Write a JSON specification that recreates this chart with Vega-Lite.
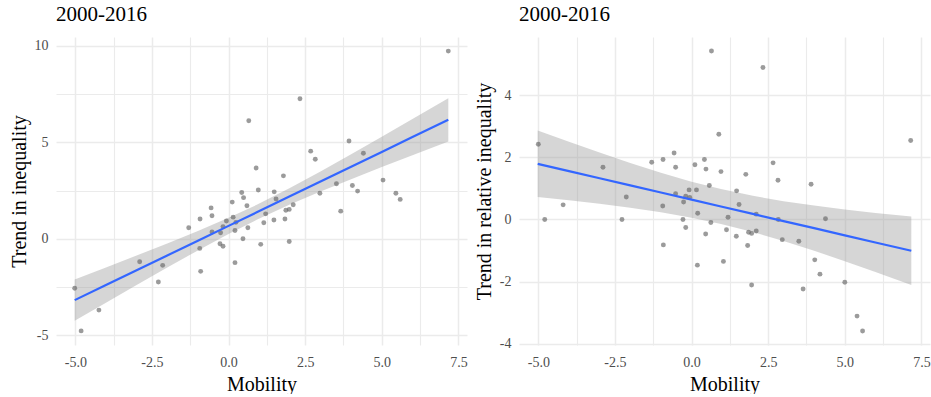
{
  "$schema": "https://vega.github.io/schema/vega-lite/v6.json",
  "background": "white",
  "padding": {"left": 9, "top": 4, "right": 0, "bottom": 0},
  "bounds": "flush",
  "spacing": 52,
  "config": {
    "font": "Liberation Serif",
    "view": {"stroke": null},
    "axis": {
      "domain": false,
      "ticks": false,
      "gridColor": "#ebebeb",
      "labelColor": "#4d4d4d",
      "labelFontSize": 14,
      "labelPadding": 8,
      "titleFontSize": 20,
      "titleFontWeight": "normal",
      "titleColor": "#000000",
      "titlePadding": 5
    },
    "title": {"anchor": "start", "frame": "group", "fontSize": 21, "fontWeight": "normal", "color": "#000000", "offset": 12}
  },
  "datasets": {
    "left": [
      {"mobility": 7.17, "trend": 9.73}, {"mobility": 2.33, "trend": 7.26}, {"mobility": 0.66, "trend": 6.12},
      {"mobility": 3.93, "trend": 5.07}, {"mobility": 4.40, "trend": 4.43}, {"mobility": 2.68, "trend": 4.54},
      {"mobility": 2.83, "trend": 4.12}, {"mobility": 0.90, "trend": 3.67}, {"mobility": 1.79, "trend": 3.26},
      {"mobility": 5.04, "trend": 3.04}, {"mobility": 3.52, "trend": 2.85}, {"mobility": 4.04, "trend": 2.76},
      {"mobility": 4.21, "trend": 2.47}, {"mobility": 2.98, "trend": 2.36}, {"mobility": 5.46, "trend": 2.36},
      {"mobility": 5.60, "trend": 2.04}, {"mobility": 0.43, "trend": 2.40}, {"mobility": 0.97, "trend": 2.53},
      {"mobility": 1.49, "trend": 2.43}, {"mobility": 0.49, "trend": 2.13}, {"mobility": 1.55, "trend": 2.06},
      {"mobility": 3.66, "trend": 1.43}, {"mobility": 0.12, "trend": 1.90}, {"mobility": 0.60, "trend": 1.71},
      {"mobility": -0.57, "trend": 1.60}, {"mobility": -0.54, "trend": 1.19}, {"mobility": -0.93, "trend": 1.02},
      {"mobility": -1.30, "trend": 0.57}, {"mobility": 0.15, "trend": 1.12}, {"mobility": -0.07, "trend": 0.92},
      {"mobility": -0.18, "trend": 0.63}, {"mobility": -0.54, "trend": 0.35}, {"mobility": -0.26, "trend": 0.31},
      {"mobility": 0.21, "trend": 0.43}, {"mobility": 0.63, "trend": 0.57}, {"mobility": 0.24, "trend": 0.85},
      {"mobility": 1.21, "trend": 1.29}, {"mobility": 1.15, "trend": 0.83}, {"mobility": 1.48, "trend": 0.97},
      {"mobility": 1.98, "trend": 1.52}, {"mobility": 1.87, "trend": 1.48}, {"mobility": 2.11, "trend": 1.76},
      {"mobility": 1.84, "trend": 1.02}, {"mobility": 1.98, "trend": -0.14}, {"mobility": 1.05, "trend": -0.29},
      {"mobility": 0.47, "trend": 0.0}, {"mobility": -0.28, "trend": -0.26}, {"mobility": -0.18, "trend": -0.39},
      {"mobility": -0.94, "trend": -0.50}, {"mobility": 0.21, "trend": -1.24}, {"mobility": -0.91, "trend": -1.69},
      {"mobility": -2.90, "trend": -1.19}, {"mobility": -2.15, "trend": -1.38}, {"mobility": -2.29, "trend": -2.24},
      {"mobility": -5.02, "trend": -2.57}, {"mobility": -4.23, "trend": -3.70}, {"mobility": -4.81, "trend": -4.78}
    ],
    "right": [
      {"mobility": 0.65, "rel": 5.42}, {"mobility": 2.33, "rel": 4.89}, {"mobility": 0.89, "rel": 2.74},
      {"mobility": 7.15, "rel": 2.54}, {"mobility": -5.0, "rel": 2.42}, {"mobility": -0.57, "rel": 2.14},
      {"mobility": -2.89, "rel": 1.68}, {"mobility": -1.30, "rel": 1.84}, {"mobility": -0.93, "rel": 1.93},
      {"mobility": -0.52, "rel": 1.68}, {"mobility": 0.42, "rel": 1.93}, {"mobility": 0.11, "rel": 1.76},
      {"mobility": 0.47, "rel": 1.62}, {"mobility": 0.96, "rel": 1.54}, {"mobility": 1.77, "rel": 1.45},
      {"mobility": 2.66, "rel": 1.82}, {"mobility": 2.82, "rel": 1.26}, {"mobility": 3.90, "rel": 1.13},
      {"mobility": 0.58, "rel": 1.09}, {"mobility": 1.47, "rel": 0.92}, {"mobility": -0.08, "rel": 0.95},
      {"mobility": 0.16, "rel": 0.95}, {"mobility": -0.52, "rel": 0.83}, {"mobility": -0.19, "rel": 0.75},
      {"mobility": -0.06, "rel": 0.71}, {"mobility": -2.13, "rel": 0.72}, {"mobility": -4.19, "rel": 0.47},
      {"mobility": -4.79, "rel": 0.0}, {"mobility": -2.27, "rel": 0.0}, {"mobility": -0.94, "rel": 0.43},
      {"mobility": -0.26, "rel": 0.56}, {"mobility": 1.55, "rel": 0.48}, {"mobility": 0.20, "rel": 0.20},
      {"mobility": -0.28, "rel": 0.0}, {"mobility": -0.19, "rel": -0.26}, {"mobility": 0.63, "rel": -0.10},
      {"mobility": 1.19, "rel": 0.07}, {"mobility": 0.46, "rel": -0.47}, {"mobility": 1.14, "rel": -0.33},
      {"mobility": 1.46, "rel": -0.54}, {"mobility": 1.86, "rel": -0.41}, {"mobility": 1.96, "rel": -0.45},
      {"mobility": 2.11, "rel": -0.37}, {"mobility": 2.11, "rel": 0.17}, {"mobility": 2.83, "rel": 0.0},
      {"mobility": 2.96, "rel": -0.65}, {"mobility": 3.50, "rel": -0.70}, {"mobility": 4.37, "rel": 0.02},
      {"mobility": 4.02, "rel": -1.30}, {"mobility": 4.19, "rel": -1.76}, {"mobility": 5.00, "rel": -2.02},
      {"mobility": 3.64, "rel": -2.24}, {"mobility": 1.96, "rel": -2.11}, {"mobility": 1.04, "rel": -1.35},
      {"mobility": 0.19, "rel": -1.47}, {"mobility": -0.92, "rel": -0.82}, {"mobility": 1.83, "rel": -0.84},
      {"mobility": 5.40, "rel": -3.11}, {"mobility": 5.58, "rel": -3.59}
    ],
    "bandL": [
      {"x": -5.02, "lo": -4.253, "hi": -2.113, "fit": -3.183},
      {"x": -4, "lo": -3.314, "hi": -1.488, "fit": -2.401},
      {"x": -3, "lo": -2.398, "hi": -0.870, "fit": -1.634},
      {"x": -2, "lo": -1.493, "hi": -0.241, "fit": -0.867},
      {"x": -1, "lo": -0.605, "hi": 0.405, "fit": -0.100},
      {"x": 0, "lo": 0.248, "hi": 1.086, "fit": 0.667},
      {"x": 0.92, "lo": 0.98, "hi": 1.76, "fit": 1.37},
      {"x": 2, "lo": 1.771, "hi": 2.631, "fit": 2.201},
      {"x": 3, "lo": 2.444, "hi": 3.492, "fit": 2.968},
      {"x": 4, "lo": 3.087, "hi": 4.383, "fit": 3.735},
      {"x": 5, "lo": 3.713, "hi": 5.291, "fit": 4.502},
      {"x": 6, "lo": 4.331, "hi": 6.207, "fit": 5.269},
      {"x": 7.17, "lo": 5.046, "hi": 7.286, "fit": 6.166}
    ],
    "bandR": [
      {"x": -5.02, "lo": 0.720, "hi": 2.860, "fit": 1.790},
      {"x": -4, "lo": 0.614, "hi": 2.496, "fit": 1.555},
      {"x": -3, "lo": 0.502, "hi": 2.150, "fit": 1.326},
      {"x": -2, "lo": 0.377, "hi": 1.816, "fit": 1.096},
      {"x": -1, "lo": 0.232, "hi": 1.502, "fit": 0.867},
      {"x": 0, "lo": 0.058, "hi": 1.216, "fit": 0.637},
      {"x": 0.96, "lo": -0.144, "hi": 0.976, "fit": 0.416},
      {"x": 2, "lo": -0.404, "hi": 0.760, "fit": 0.178},
      {"x": 3, "lo": -0.693, "hi": 0.589, "fit": -0.052},
      {"x": 4, "lo": -1.008, "hi": 0.446, "fit": -0.281},
      {"x": 5, "lo": -1.343, "hi": 0.322, "fit": -0.511},
      {"x": 6, "lo": -1.692, "hi": 0.210, "fit": -0.741},
      {"x": 7.17, "lo": -2.109, "hi": 0.091, "fit": -1.009}
    ]
  },
  "hconcat": [
    {
      "width": 411,
      "height": 308,
      "title": {"text": "2000-2016"},
      "layer": [
        {
          "data": {"name": "bandL"},
          "mark": {"type": "area", "color": "#999999", "opacity": 0.4},
          "encoding": {
            "x": {"field": "x", "type": "quantitative",
              "scale": {"domain": [-5.63, 7.78], "nice": false, "zero": false},
              "axis": {"values": [-5, -3.75, -2.5, -1.25, 0, 1.25, 2.5, 3.75, 5, 6.25, 7.5], "title": "Mobility", "labelPadding": 10,
                "labelExpr": "datum.value % 2.5 == 0 ? replace(format(datum.value, '.1f'), '−', '-') : ''",
                "gridWidth": {"condition": {"test": "datum.value % 2.5 == 0", "value": 1.5}, "value": 1.1}}},
            "y": {"field": "lo", "type": "quantitative",
              "scale": {"domain": [-5.51, 10.46], "nice": false, "zero": false},
              "axis": {"values": [-5, -2.5, 0, 2.5, 5, 7.5, 10], "title": "Trend in inequality",
                "labelExpr": "datum.value % 5 == 0 ? replace(format(datum.value, 'd'), '−', '-') : ''",
                "gridWidth": {"condition": {"test": "datum.value % 5 == 0", "value": 1.5}, "value": 1.1}}},
            "y2": {"field": "hi"}
          }
        },
        {
          "data": {"name": "left"},
          "mark": {"type": "circle", "size": 24, "color": "#666666", "opacity": 0.65},
          "encoding": {
            "x": {"field": "mobility", "type": "quantitative"},
            "y": {"field": "trend", "type": "quantitative"}
          }
        },
        {
          "data": {"name": "bandL"},
          "mark": {"type": "line", "color": "#3366FF", "strokeWidth": 2.2},
          "encoding": {
            "x": {"field": "x", "type": "quantitative"},
            "y": {"field": "fit", "type": "quantitative"}
          }
        }
      ]
    },
    {
      "width": 411,
      "height": 308,
      "title": {"text": "2000-2016"},
      "layer": [
        {
          "data": {"name": "bandR"},
          "mark": {"type": "area", "color": "#999999", "opacity": 0.4},
          "encoding": {
            "x": {"field": "x", "type": "quantitative",
              "scale": {"domain": [-5.63, 7.78], "nice": false, "zero": false},
              "axis": {"values": [-5, -3.75, -2.5, -1.25, 0, 1.25, 2.5, 3.75, 5, 6.25, 7.5], "title": "Mobility", "labelPadding": 10,
                "labelExpr": "datum.value % 2.5 == 0 ? replace(format(datum.value, '.1f'), '−', '-') : ''",
                "gridWidth": {"condition": {"test": "datum.value % 2.5 == 0", "value": 1.5}, "value": 1.1}}},
            "y": {"field": "lo", "type": "quantitative",
              "scale": {"domain": [-4.04, 5.87], "nice": false, "zero": false},
              "axis": {"values": [-4, -3, -2, -1, 0, 1, 2, 3, 4, 5], "title": "Trend in relative inequality",
                "labelExpr": "datum.value % 2 == 0 ? replace(format(datum.value, 'd'), '−', '-') : ''",
                "gridWidth": {"condition": {"test": "datum.value % 2 == 0", "value": 1.5}, "value": 1.1}}},
            "y2": {"field": "hi"}
          }
        },
        {
          "data": {"name": "right"},
          "mark": {"type": "circle", "size": 24, "color": "#666666", "opacity": 0.65},
          "encoding": {
            "x": {"field": "mobility", "type": "quantitative"},
            "y": {"field": "rel", "type": "quantitative"}
          }
        },
        {
          "data": {"name": "bandR"},
          "mark": {"type": "line", "color": "#3366FF", "strokeWidth": 2.2},
          "encoding": {
            "x": {"field": "x", "type": "quantitative"},
            "y": {"field": "fit", "type": "quantitative"}
          }
        }
      ]
    }
  ]
}
